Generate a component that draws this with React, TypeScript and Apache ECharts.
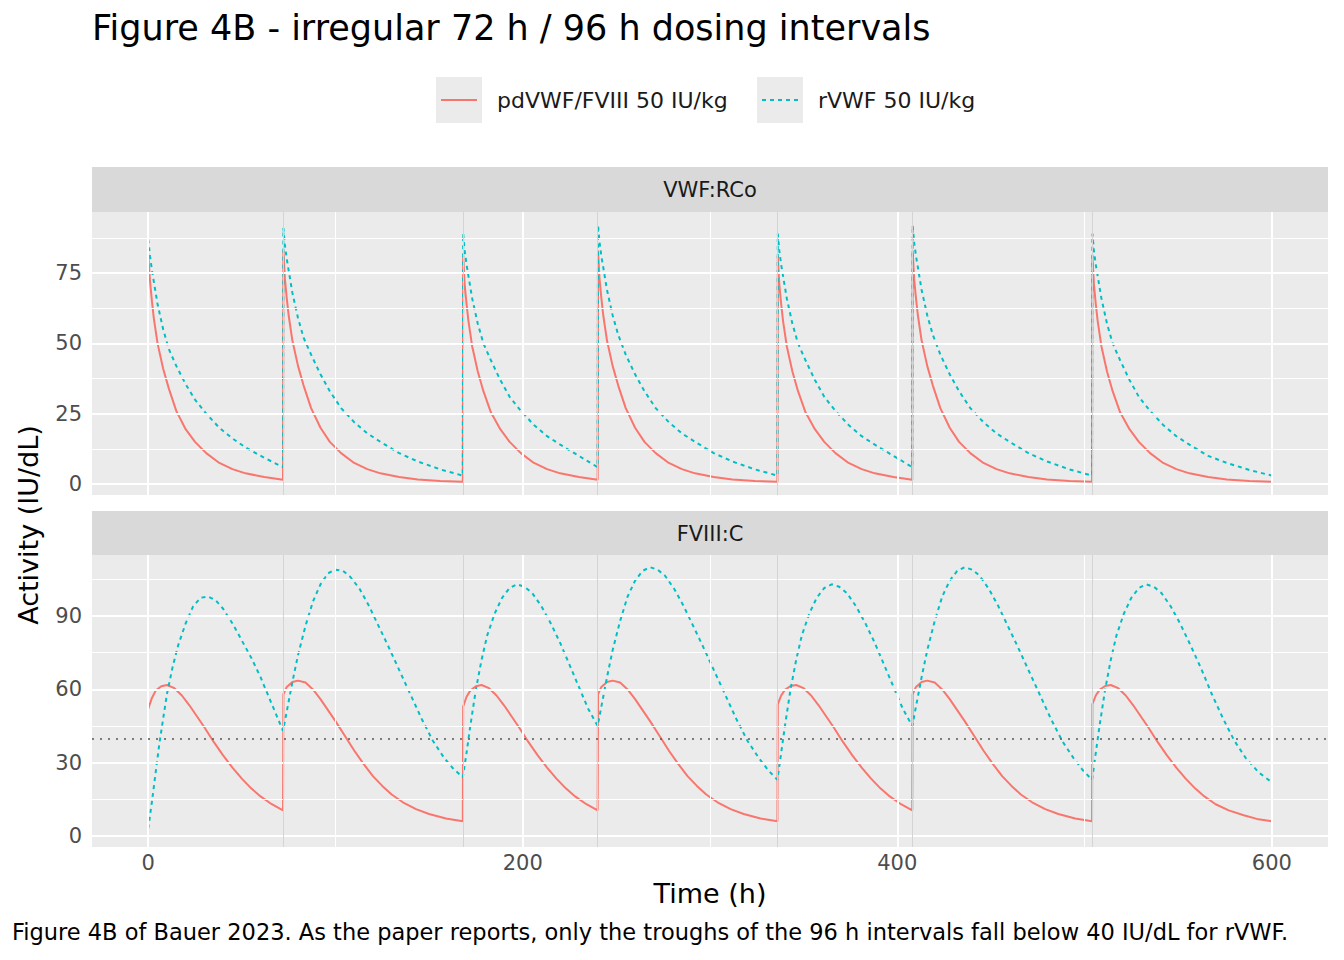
import React, { useEffect, useRef } from "react";
import * as echarts from "echarts";

// dosing times (h) and tick labels
const doseTimes = [72, 168, 240, 336, 408, 504];
const xTicks = [0, 200, 400, 600];
const xGrid = [0, 100, 200, 300, 400, 500, 600];
const vwfTicks = [0, 25, 50, 75];
const vwfGrid = [0, 12.5, 25, 37.5, 50, 62.5, 75, 87.5];
const fviiiTicks = [0, 30, 60, 90];
const fviiiGrid = [0, 15, 30, 45, 60, 75, 90, 105];
const threshold = 40;

// VWF:RCo, pdVWF/FVIII 50 IU/kg
const vwfPd = [
  [0, 82], [1, 72], [2, 65], [3, 59], [5, 50], [8, 41], [11, 34], [15, 26], [20, 19.5], [25, 15], [31, 11], [38, 7.5], [45, 5.3], [52, 3.8], [62, 2.5], [72, 1.5],
  [72.2, 83], [73, 73], [74, 66], [75, 60], [77, 51], [80, 42], [83, 35], [87, 27], [92, 20], [97, 15], [103, 11], [110, 7.5], [117, 5.3], [124, 3.8], [134, 2.5], [144, 1.6], [156, 1.1], [168, 0.8],
  [168.2, 81], [169, 71], [170, 64], [171, 58], [173, 49], [176, 40], [179, 33], [183, 25.5], [188, 19.5], [193, 15], [199, 11], [206, 7.5], [213, 5.3], [220, 3.8], [230, 2.5], [240, 1.5],
  [240.2, 83], [241, 73], [242, 66], [243, 60], [245, 51], [248, 42], [251, 35], [255, 27], [260, 20], [265, 15], [271, 11], [278, 7.5], [285, 5.3], [292, 3.8], [302, 2.5], [312, 1.6], [324, 1.1], [336, 0.8],
  [336.2, 81], [337, 71], [338, 64], [339, 58], [341, 49], [344, 40], [347, 33], [351, 25.5], [356, 19.5], [361, 15], [367, 11], [374, 7.5], [381, 5.3], [388, 3.8], [398, 2.5], [408, 1.5],
  [408.2, 83], [409, 73], [410, 66], [411, 60], [413, 51], [416, 42], [419, 35], [423, 27], [428, 20], [433, 15], [439, 11], [446, 7.5], [453, 5.3], [460, 3.8], [470, 2.5], [480, 1.6], [492, 1.1], [504, 0.8],
  [504.2, 81], [505, 71], [506, 64], [507, 58], [509, 49], [512, 40], [515, 33], [519, 25.5], [524, 19.5], [529, 15], [535, 11], [542, 7.5], [549, 5.3], [556, 3.8], [566, 2.5], [576, 1.6], [588, 1.1], [600, 0.8],
];

// VWF:RCo, rVWF 50 IU/kg
const vwfR = [
  [0, 87], [1, 81], [2, 76], [3, 72], [5, 64], [8, 55], [11, 48], [15, 42], [20, 35.5], [25, 30], [31, 25], [38, 20], [45, 16.2], [52, 13], [62, 9.3], [72, 6],
  [72.2, 91], [73, 85], [74, 80], [75, 76], [77, 68], [80, 59], [83, 52], [87, 46], [92, 39], [97, 33], [103, 27], [110, 22], [117, 18], [124, 15], [134, 11], [144, 8], [156, 5.2], [168, 3],
  [168.2, 89], [169, 83], [170, 78], [171, 74], [173, 66], [176, 57], [179, 50], [183, 44], [188, 37], [193, 31], [199, 26], [206, 21], [213, 17], [220, 14], [230, 10], [240, 6],
  [240.2, 92], [241, 86], [242, 81], [243, 77], [245, 69], [248, 60], [251, 53], [255, 46], [260, 39], [265, 33], [271, 27], [278, 22], [285, 18], [292, 15], [302, 11], [312, 8], [324, 5.2], [336, 3],
  [336.2, 89], [337, 83], [338, 78], [339, 74], [341, 66], [344, 57], [347, 50], [351, 44], [356, 37], [361, 31], [367, 26], [374, 21], [381, 17], [388, 14], [398, 10], [408, 6],
  [408.2, 92], [409, 86], [410, 81], [411, 77], [413, 69], [416, 60], [419, 53], [423, 46], [428, 39], [433, 33], [439, 27], [446, 22], [453, 18], [460, 15], [470, 11], [480, 8], [492, 5.2], [504, 3],
  [504.2, 89], [505, 83], [506, 78], [507, 74], [509, 66], [512, 57], [515, 50], [519, 44], [524, 37], [529, 31], [535, 26], [542, 21], [549, 17], [556, 14], [566, 10], [576, 7.5], [588, 5], [600, 3],
];

// FVIII:C, pdVWF/FVIII 50 IU/kg
const fviiiPd = [
  [0, 52], [2, 56.5], [4, 59.5], [7, 61.3], [10, 61.8], [14, 60.5], [18, 57.5], [22, 53.5], [26, 49], [30, 44.5], [35, 38.5], [40, 33], [45, 28], [50, 23.5], [55, 19.5], [60, 16.2], [66, 13], [72, 10.5],
  [72.2, 58], [74, 61], [77, 63], [80, 63.6], [84, 62.8], [88, 60], [92, 56], [96, 51.5], [100, 47], [105, 41], [110, 35], [115, 29.5], [120, 24.5], [125, 20.5], [130, 17], [136, 13.8], [143, 11], [150, 9], [159, 7.2], [168, 6],
  [168.2, 53], [170, 57], [172, 59.5], [175, 61.3], [178, 61.8], [182, 60.5], [186, 57.5], [190, 53.5], [194, 49], [198, 44.5], [203, 38.5], [208, 33], [213, 28], [218, 23.5], [223, 19.5], [228, 16.2], [234, 13], [240, 10.5],
  [240.2, 58], [242, 61], [245, 63], [248, 63.6], [252, 62.8], [256, 60], [260, 56], [264, 51.5], [268, 47], [273, 41], [278, 35], [283, 29.5], [288, 24.5], [293, 20.5], [298, 17], [304, 13.8], [311, 11], [318, 9], [327, 7.2], [336, 6],
  [336.2, 54], [338, 57.5], [340, 59.8], [343, 61.4], [346, 61.8], [350, 60.5], [354, 57.5], [358, 53.5], [362, 49], [366, 44.5], [371, 38.5], [376, 33], [381, 28], [386, 23.5], [391, 19.5], [396, 16.2], [402, 13], [408, 10.5],
  [408.2, 58], [410, 61], [413, 63], [416, 63.6], [420, 62.8], [424, 60], [428, 56], [432, 51.5], [436, 47], [441, 41], [446, 35], [451, 29.5], [456, 24.5], [461, 20.5], [466, 17], [472, 13.8], [479, 11], [486, 9], [495, 7.2], [504, 6],
  [504.2, 54], [506, 57.5], [508, 59.8], [511, 61.4], [514, 61.8], [518, 60.5], [522, 57.5], [526, 53.5], [530, 49], [534, 44.5], [539, 38.5], [544, 33], [549, 28], [554, 23.5], [559, 19.5], [564, 16.2], [570, 13], [577, 10.5], [585, 8.5], [592, 7], [600, 6],
];

// FVIII:C, rVWF 50 IU/kg
const fviiiR = [
  [0, 3], [2, 14], [4, 26], [6, 38], [8, 48], [10, 58], [13, 69], [16, 78], [20, 87], [24, 94], [28, 97.5], [32, 98], [36, 96.5], [40, 93], [45, 87], [50, 80], [55, 73], [60, 65], [66, 54], [72, 43],
  [72.2, 43], [74, 51], [77, 63], [80, 74], [84, 86], [88, 96], [92, 103], [96, 107.5], [100, 109], [104, 108.5], [108, 106], [113, 101], [118, 94], [123, 86], [128, 78], [134, 68], [140, 58], [146, 48], [152, 39], [158, 32], [163, 27.5], [168, 24],
  [168.2, 24], [170, 34], [172, 45], [175, 60], [178, 72], [181, 82], [185, 91], [189, 97.5], [193, 101.5], [197, 103], [201, 102], [205, 99.5], [210, 94], [215, 87], [220, 79], [225, 70], [230, 61], [235, 52], [240, 45],
  [240.2, 45], [242, 53], [245, 65], [248, 76], [252, 88], [256, 98], [260, 104.5], [264, 108.5], [268, 110], [272, 109], [276, 106.5], [281, 101], [286, 94], [291, 86], [296, 78], [302, 68], [308, 58], [314, 48], [320, 39], [326, 32], [331, 27], [336, 23],
  [336.2, 23], [338, 34], [340, 45], [343, 60], [346, 72], [349, 82], [353, 91], [357, 97.5], [361, 101.5], [365, 103], [369, 102], [373, 99.5], [378, 94], [383, 87], [388, 79], [393, 70], [398, 61], [403, 52], [408, 45],
  [408.2, 45], [410, 53], [413, 65], [416, 76], [420, 88], [424, 98], [428, 104.5], [432, 108.5], [436, 110], [440, 109], [444, 106.5], [449, 101], [454, 94], [459, 86], [464, 78], [470, 68], [476, 58], [482, 48], [488, 39], [494, 32], [499, 27], [504, 23],
  [504.2, 23], [506, 34], [508, 45], [511, 60], [514, 72], [517, 82], [521, 91], [525, 97.5], [529, 101.5], [533, 103], [537, 102], [541, 99.5], [546, 94], [551, 87], [556, 79], [562, 69], [568, 58], [574, 48], [580, 39], [586, 32], [593, 26], [600, 22],
];

const RED = "#F8766D";
const CYAN = "#00BFC4";
const FONT = "DejaVu Sans";

const gridLines = (xs: number[], ys: number[], idx: number) => {
  const line = (key: string, v: number, major: boolean) => ({
    [key]: v,
    lineStyle: { color: "#ffffff", width: major ? 2 : 1, type: "solid" },
  });
  return {
    type: "line",
    xAxisIndex: idx,
    yAxisIndex: idx,
    data: [],
    z: 1,
    silent: true,
    markLine: {
      silent: true,
      symbol: "none",
      label: { show: false },
      animation: false,
      data: [
        ...xs.map((v) => line("xAxis", v, v % 200 === 0)),
        ...ys.map((v) => line("yAxis", v, idx === 0 ? v % 25 === 0 : v % 30 === 0)),
        ...doseTimes.map((v) => ({ xAxis: v, lineStyle: { color: "#d4d4d4", width: 1, type: "solid" } })),
      ],
    },
  };
};

const App: React.FC = () => {
  const ref = useRef<HTMLDivElement>(null);

  useEffect(() => {
    document.body.style.margin = "0";
    if (!ref.current) return;
    const chart = echarts.init(ref.current, null, { renderer: "svg" });

    const xAxisBase = (gi: number, showLabels: boolean) => ({
      type: "value",
      gridIndex: gi,
      min: -30,
      max: 630,
      splitLine: { show: false },
      axisLine: { show: false },
      axisTick: {
        show: showLabels,
        customValues: xTicks,
        length: 5,
        lineStyle: { color: "#333333", width: 1 },
      },
      axisLabel: {
        show: showLabels,
        customValues: xTicks,
        color: "#4d4d4d",
        fontSize: 21,
        fontFamily: FONT,
        margin: 5,
      },
    });
    const yAxisBase = (gi: number, min: number, max: number, ticks: number[]) => ({
      type: "value",
      gridIndex: gi,
      min,
      max,
      splitLine: { show: false },
      axisLine: { show: false },
      axisTick: { show: true, customValues: ticks, length: 5, lineStyle: { color: "#333333" } },
      axisLabel: {
        customValues: ticks,
        color: "#4d4d4d",
        fontSize: 21,
        fontFamily: FONT,
        margin: 10,
      },
    });

    const lineSeries = (name: string, data: number[][], color: string, dashed: boolean, gi: number) => ({
      name,
      type: "line",
      xAxisIndex: gi,
      yAxisIndex: gi,
      data,
      showSymbol: false,
      smooth: false,
      z: 3,
      lineStyle: { color, width: 2, type: dashed ? [4, 4] : "solid" },
    });

    chart.setOption({
      animation: false,
      textStyle: { fontFamily: FONT },
      grid: [
        { left: 92, top: 212, width: 1236, height: 283, show: true, backgroundColor: "#ebebeb", borderWidth: 0 },
        { left: 92, top: 555, width: 1236, height: 292, show: true, backgroundColor: "#ebebeb", borderWidth: 0 },
      ],
      xAxis: [xAxisBase(0, false), xAxisBase(1, true)],
      yAxis: [yAxisBase(0, -3.9, 96.7, vwfTicks), yAxisBase(1, -4.5, 115, fviiiTicks)],
      series: [
        gridLines(xGrid, vwfGrid, 0),
        gridLines(xGrid, fviiiGrid, 1),
        {
          type: "line",
          xAxisIndex: 1,
          yAxisIndex: 1,
          data: [],
          z: 2,
          markLine: {
            silent: true,
            symbol: "none",
            label: { show: false },
            data: [{ yAxis: threshold }],
            lineStyle: { color: "#555555", width: 1.5, type: [2, 6] },
          },
        },
        lineSeries("pdVWF/FVIII 50 IU/kg", vwfPd, RED, false, 0),
        lineSeries("rVWF 50 IU/kg", vwfR, CYAN, true, 0),
        lineSeries("pdVWF/FVIII 50 IU/kg", fviiiPd, RED, false, 1),
        lineSeries("rVWF 50 IU/kg", fviiiR, CYAN, true, 1),
      ],
      graphic: [
        { type: "text", left: 92, top: 10, style: { text: "Figure 4B - irregular 72 h / 96 h dosing intervals", fontSize: 35, fontFamily: FONT, fill: "#000" } },
        // legend
        { type: "rect", shape: { x: 436, y: 77, width: 46, height: 46 }, style: { fill: "#ebebeb" } },
        { type: "line", shape: { x1: 441, y1: 100, x2: 477, y2: 100 }, style: { stroke: RED, lineWidth: 2 } },
        { type: "text", x: 497, y: 100, style: { text: "pdVWF/FVIII 50 IU/kg", fontSize: 22, fontFamily: FONT, fill: "#1a1a1a", verticalAlign: "middle" } },
        { type: "rect", shape: { x: 757, y: 77, width: 46, height: 46 }, style: { fill: "#ebebeb" } },
        { type: "line", shape: { x1: 762, y1: 100, x2: 798, y2: 100 }, style: { stroke: CYAN, lineWidth: 2, lineDash: [4, 4] } },
        { type: "text", x: 818, y: 100, style: { text: "rVWF 50 IU/kg", fontSize: 22, fontFamily: FONT, fill: "#1a1a1a", verticalAlign: "middle" } },
        // strips
        { type: "rect", shape: { x: 92, y: 167, width: 1236, height: 45 }, style: { fill: "#d9d9d9" } },
        { type: "text", x: 710, y: 190, style: { text: "VWF:RCo", fontSize: 21, fontFamily: FONT, fill: "#1a1a1a", align: "center", verticalAlign: "middle" } },
        { type: "rect", shape: { x: 92, y: 511, width: 1236, height: 44 }, style: { fill: "#d9d9d9" } },
        { type: "text", x: 710, y: 534, style: { text: "FVIII:C", fontSize: 21, fontFamily: FONT, fill: "#1a1a1a", align: "center", verticalAlign: "middle" } },
        // axis titles
        { type: "text", x: 710, y: 893, style: { text: "Time (h)", fontSize: 27, fontFamily: FONT, fill: "#000", align: "center", verticalAlign: "middle" } },
        { type: "text", x: 28, y: 525, rotation: Math.PI / 2, style: { text: "Activity (IU/dL)", fontSize: 27, fontFamily: FONT, fill: "#000", align: "center", verticalAlign: "middle" } },
        { type: "text", x: 650, y: 932, style: { text: "Figure 4B of Bauer 2023. As the paper reports, only the troughs of the 96 h intervals fall below 40 IU/dL for rVWF.", fontSize: 22.5, fontFamily: FONT, fill: "#000", align: "center", verticalAlign: "middle" } },
      ],
    });
    return () => chart.dispose();
  }, []);

  return <div ref={ref} style={{ width: 1344, height: 960 }} />;
};

export default App;
